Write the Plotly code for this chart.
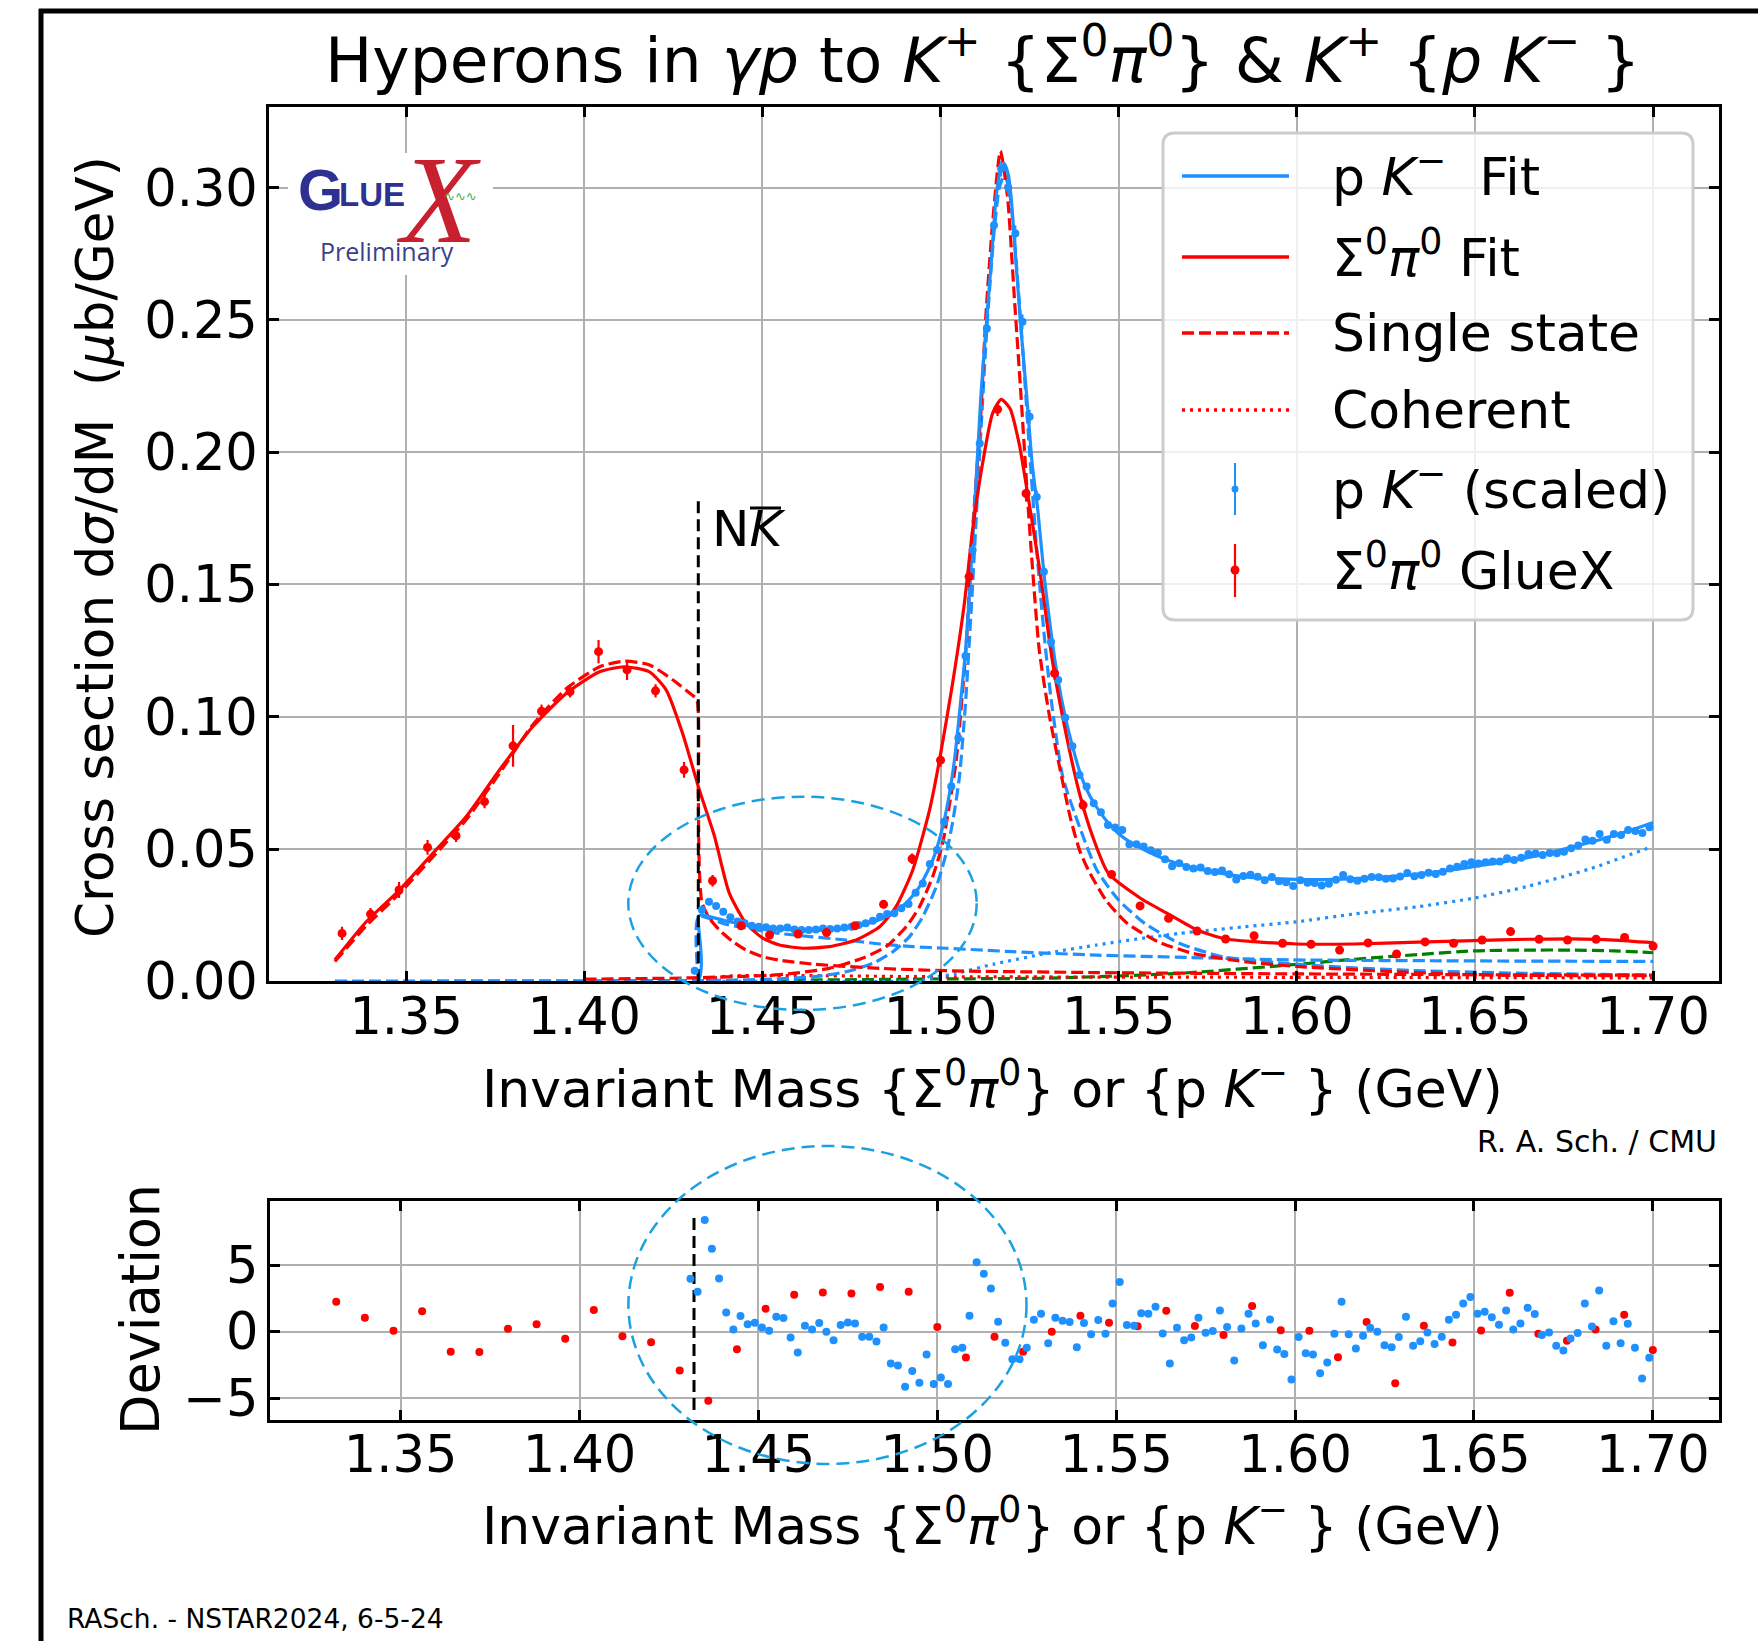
import plotly.graph_objects as go

# ------------------------------------------------------------------ data
X_TICKS = [1.35, 1.40, 1.45, 1.50, 1.55, 1.60, 1.65, 1.70]
X_TICK_TEXT = ["1.35", "1.40", "1.45", "1.50", "1.55", "1.60", "1.65", "1.70"]
Y_TICKS = [0.0, 0.05, 0.10, 0.15, 0.20, 0.25, 0.30]
Y_TICK_TEXT = ["0.00", "0.05", "0.10", "0.15", "0.20", "0.25", "0.30"]
DEV_TICKS = [-5, 0, 5]
DEV_TICK_TEXT = ["\u22125", "0", "5"]

# N Kbar threshold (GeV) and the extent of its marker line
NKBAR_MASS = 1.432
NKBAR_XSEC_EXTENT = [0.0, 0.1836]
NKBAR_DEV_EXTENT = [-5.9, 8.9]

# Sigma0 pi0 GlueX points
RED_MASS = [1.332, 1.340, 1.348, 1.356, 1.364, 1.372, 1.380, 1.388, 1.396, 1.404,
            1.412, 1.420, 1.428, 1.436, 1.444, 1.452, 1.460, 1.468, 1.476, 1.484,
            1.492, 1.500, 1.508, 1.516, 1.524, 1.532, 1.540, 1.548, 1.556, 1.564,
            1.572, 1.580, 1.588, 1.596, 1.604, 1.612, 1.620, 1.628, 1.636, 1.644,
            1.652, 1.660, 1.668, 1.676, 1.684, 1.692, 1.700]
RED_XSEC = [0.0181, 0.0254, 0.0345, 0.0506, 0.0550, 0.0679, 0.0890, 0.1021, 0.1095, 0.1246,
            0.1177, 0.1098, 0.0799, 0.0380, 0.0210, 0.0175, 0.0179, 0.0184, 0.0210, 0.0291,
            0.0463, 0.0836, 0.1530, 0.2162, 0.1844, 0.1164, 0.0666, 0.0404, 0.0285, 0.0238,
            0.0190, 0.0160, 0.0172, 0.0144, 0.0140, 0.0118, 0.0145, 0.0103, 0.0149, 0.0144,
            0.0156, 0.0188, 0.0159, 0.0156, 0.0159, 0.0166, 0.0133]
RED_ERR = [0.0025, 0.0023, 0.0030, 0.0028, 0.0023, 0.0025, 0.0079, 0.0025, 0.0022, 0.0044,
           0.0038, 0.0025, 0.0030, 0.0022, 0.0015, 0.0013, 0.0012, 0.0012, 0.0013, 0.0015,
           0.0020, 0.0025, 0.0040, 0.0025, 0.0030, 0.0025, 0.0020, 0.0015, 0.0012, 0.0012,
           0.0010, 0.0010, 0.0010, 0.0010, 0.0010, 0.0010, 0.0010, 0.0010, 0.0010, 0.0010,
           0.0010, 0.0010, 0.0010, 0.0010, 0.0010, 0.0010, 0.0010]
RED_DEV = [2.25, 1.04, 0.06, 1.54, -1.52, -1.54, 0.21, 0.56, -0.54, 1.62,
           -0.34, -0.79, -2.92, -5.21, -1.32, 1.72, 2.77, 2.95, 2.87, 3.35,
           3.00, 0.34, -1.95, -0.39, -1.52, -0.01, 1.19, 0.66, 0.41, 1.57,
           0.42, -0.26, 1.92, 0.11, 0.06, -1.92, 0.72, -3.88, 0.45, -0.82,
           0.08, 2.92, -0.16, -0.69, 0.16, 1.27, -1.39]

# p K- points (scaled)
BLUE_MASS = [1.431, 1.433, 1.435, 1.437, 1.439, 1.441, 1.443, 1.445, 1.447, 1.449,
             1.451, 1.453, 1.455, 1.457, 1.459, 1.461, 1.463, 1.465, 1.467, 1.469,
             1.471, 1.473, 1.475, 1.477, 1.479, 1.481, 1.483, 1.485, 1.487, 1.489,
             1.491, 1.493, 1.495, 1.497, 1.499, 1.501, 1.503, 1.505, 1.507, 1.509,
             1.511, 1.513, 1.515, 1.517, 1.519, 1.521, 1.523, 1.525, 1.527, 1.529,
             1.531, 1.533, 1.535, 1.537, 1.539, 1.541, 1.543, 1.545, 1.547, 1.549,
             1.551, 1.553, 1.555, 1.557, 1.559, 1.561, 1.563, 1.565, 1.567, 1.569,
             1.571, 1.573, 1.575, 1.577, 1.579, 1.581, 1.583, 1.585, 1.587, 1.589,
             1.591, 1.593, 1.595, 1.597, 1.599, 1.601, 1.603, 1.605, 1.607, 1.609,
             1.611, 1.613, 1.615, 1.617, 1.619, 1.621, 1.623, 1.625, 1.627, 1.629,
             1.631, 1.633, 1.635, 1.637, 1.639, 1.641, 1.643, 1.645, 1.647, 1.649,
             1.651, 1.653, 1.655, 1.657, 1.659, 1.661, 1.663, 1.665, 1.667, 1.669,
             1.671, 1.673, 1.675, 1.677, 1.679, 1.681, 1.683, 1.685, 1.687, 1.689,
             1.691, 1.693, 1.695, 1.697, 1.699]
BLUE_XSEC = [0.0040, 0.0270, 0.0301, 0.0285, 0.0263, 0.0242, 0.0226, 0.0219, 0.0210, 0.0206,
             0.0204, 0.0200, 0.0200, 0.0203, 0.0196, 0.0194, 0.0194, 0.0196, 0.0200, 0.0198,
             0.0200, 0.0203, 0.0206, 0.0213, 0.0219, 0.0229, 0.0244, 0.0254, 0.0257, 0.0276,
             0.0292, 0.0335, 0.0370, 0.0443, 0.0496, 0.0603, 0.0736, 0.0920, 0.1230, 0.1630,
             0.2033, 0.2468, 0.2858, 0.3072, 0.3000, 0.2827, 0.2493, 0.2134, 0.1831, 0.1548,
             0.1283, 0.1139, 0.0996, 0.0889, 0.0780, 0.0736, 0.0673, 0.0639, 0.0591, 0.0581,
             0.0572, 0.0518, 0.0518, 0.0510, 0.0495, 0.0486, 0.0461, 0.0435, 0.0446, 0.0432,
             0.0426, 0.0430, 0.0417, 0.0413, 0.0419, 0.0405, 0.0385, 0.0398, 0.0403, 0.0395,
             0.0382, 0.0394, 0.0378, 0.0374, 0.0360, 0.0382, 0.0373, 0.0372, 0.0362, 0.0369,
             0.0384, 0.0402, 0.0386, 0.0380, 0.0388, 0.0394, 0.0393, 0.0388, 0.0389, 0.0396,
             0.0409, 0.0397, 0.0402, 0.0410, 0.0406, 0.0414, 0.0426, 0.0433, 0.0443, 0.0450,
             0.0445, 0.0450, 0.0453, 0.0453, 0.0465, 0.0459, 0.0467, 0.0481, 0.0483, 0.0477,
             0.0485, 0.0484, 0.0490, 0.0503, 0.0513, 0.0536, 0.0531, 0.0557, 0.0535, 0.0557,
             0.0553, 0.0572, 0.0568, 0.0561, 0.0582]
BLUE_ERR = [0.0012, 0.0012, 0.0012, 0.0012, 0.0011, 0.0010, 0.0009, 0.0009, 0.0009, 0.0009,
            0.0009, 0.0009, 0.0009, 0.0009, 0.0009, 0.0009, 0.0009, 0.0009, 0.0009, 0.0009,
            0.0009, 0.0009, 0.0009, 0.0009, 0.0009, 0.0009, 0.0009, 0.0009, 0.0009, 0.0009,
            0.0009, 0.0010, 0.0010, 0.0012, 0.0012, 0.0014, 0.0016, 0.0018, 0.0020, 0.0024,
            0.0026, 0.0028, 0.0030, 0.0030, 0.0030, 0.0030, 0.0028, 0.0026, 0.0024, 0.0022,
            0.0020, 0.0018, 0.0016, 0.0014, 0.0012, 0.0012, 0.0011, 0.0011, 0.0010, 0.0010,
            0.0010, 0.0009, 0.0009, 0.0009, 0.0009, 0.0009, 0.0009, 0.0009, 0.0008, 0.0008,
            0.0008, 0.0008, 0.0008, 0.0008, 0.0008, 0.0008, 0.0008, 0.0008, 0.0008, 0.0008,
            0.0008, 0.0008, 0.0008, 0.0008, 0.0008, 0.0008, 0.0008, 0.0008, 0.0008, 0.0008,
            0.0008, 0.0008, 0.0008, 0.0008, 0.0008, 0.0008, 0.0008, 0.0008, 0.0008, 0.0008,
            0.0008, 0.0008, 0.0008, 0.0008, 0.0008, 0.0008, 0.0008, 0.0008, 0.0008, 0.0008,
            0.0008, 0.0008, 0.0008, 0.0008, 0.0008, 0.0008, 0.0008, 0.0008, 0.0008, 0.0008,
            0.0008, 0.0008, 0.0008, 0.0008, 0.0008, 0.0008, 0.0008, 0.0008, 0.0008, 0.0008,
            0.0008, 0.0008, 0.0008, 0.0008, 0.0008]
BLUE_DEV = [3.98, 3.00, 8.40, 6.24, 4.00, 1.44, 0.16, 1.17, 0.56, 0.66,
            0.31, 0.06, 1.12, 1.02, -0.44, -1.57, 0.44, 0.16, 0.64, -0.01,
            -0.64, 0.49, 0.69, 0.62, -0.39, -0.39, -0.74, 0.31, -2.40, -2.55,
            -4.15, -2.97, -3.85, -1.72, -3.95, -3.45, -3.95, -1.32, -1.22, 1.19,
            5.23, 4.35, 3.25, 0.74, -0.84, -2.07, -2.07, -1.22, 0.89, 1.34,
            -0.87, 1.04, 0.82, 0.72, -1.17, 0.64, -0.19, 0.87, -0.16, 2.12,
            3.73, 0.49, 0.44, 1.39, 1.34, 1.87, -0.14, -2.40, 0.29, -0.64,
            -0.44, 1.04, -0.09, 0.04, 1.59, 0.34, -2.17, 0.24, 1.34, 0.62,
            -1.02, 0.92, -1.34, -1.69, -3.60, -0.41, -1.62, -1.72, -3.13, -2.32,
            -0.16, 2.25, -0.19, -1.27, -0.31, 0.29, -0.01, -1.02, -1.17, -0.41,
            1.12, -1.07, -0.72, -0.06, -0.94, -0.39, 0.89, 1.27, 2.12, 2.60,
            1.34, 1.49, 1.09, 0.51, 1.59, 0.16, 0.62, 1.79, 1.32, -0.26,
            -0.06, -1.07, -1.42, -0.51, -0.11, 2.12, 0.39, 3.10, -1.07, 0.79,
            -0.87, 0.59, -1.22, -3.53, -1.97]

# Sigma0 pi0 fit
RED_FIT_M = [1.330, 1.3388, 1.3481, 1.3575, 1.3668, 1.3762, 1.3855, 1.3949, 1.4043, 1.4113,
             1.4183, 1.4230, 1.4276, 1.4323, 1.4365, 1.4407, 1.4454, 1.4501, 1.4548, 1.4613,
             1.4688, 1.4763, 1.4829, 1.4875, 1.4922, 1.4969, 1.4997, 1.5033, 1.5066, 1.5090,
             1.5118, 1.5146, 1.5170, 1.5195, 1.5221, 1.5240, 1.5277, 1.5315, 1.5352, 1.5390,
             1.5427, 1.5470, 1.5560, 1.5640, 1.5720, 1.5800, 1.5880, 1.6000, 1.6158, 1.6340,
             1.6496, 1.6645, 1.6770, 1.6890, 1.7000]
RED_FIT = [0.0081, 0.0225, 0.0345, 0.0484, 0.0622, 0.0799, 0.0962, 0.1088, 0.1170, 0.1189,
           0.1170, 0.1101, 0.0937, 0.0723, 0.0550, 0.0333, 0.0219, 0.0163, 0.0137, 0.0125,
           0.0131, 0.0156, 0.0206, 0.0282, 0.0421, 0.0647, 0.0836, 0.1120, 0.1420, 0.1706,
           0.1958, 0.2147, 0.2200, 0.2165, 0.2030, 0.1880, 0.1567, 0.1202, 0.0937, 0.0710,
           0.0547, 0.0410, 0.0315, 0.0254, 0.0194, 0.0160, 0.0150, 0.0141, 0.0141, 0.0148,
           0.0154, 0.0159, 0.0160, 0.0156, 0.0146]

# single-state Lambda(1405) in Sigma0 pi0
RED_L1405_M = [1.330, 1.3388, 1.3481, 1.3575, 1.3668, 1.3762, 1.3855, 1.3949, 1.4043, 1.4113,
               1.4183, 1.4249, 1.4300, 1.4316, 1.4320, 1.4323, 1.4330, 1.4350, 1.4379, 1.4417,
               1.4454, 1.4501, 1.4548, 1.4641, 1.4830, 1.5016, 1.5437, 1.6000, 1.6500, 1.7000]
RED_L1405 = [0.0075, 0.0210, 0.0332, 0.0470, 0.0610, 0.0786, 0.0969, 0.1106, 0.1189, 0.1210,
             0.1196, 0.1139, 0.1085, 0.1065, 0.0700, 0.0420, 0.0300, 0.0240, 0.0194, 0.0150,
             0.0118, 0.0093, 0.0080, 0.0065, 0.0049, 0.0040, 0.0033, 0.0028, 0.0025, 0.0023]

# single-state Lambda(1520) in Sigma0 pi0
RED_L1520_M = [1.400, 1.430, 1.4548, 1.4688, 1.4782, 1.4847, 1.4904, 1.4941, 1.4978,
               1.5006, 1.5030, 1.5044, 1.5071, 1.5090, 1.5113, 1.5127, 1.5146, 1.5168, 1.5188,
               1.5207, 1.5226, 1.5244, 1.5256, 1.5277, 1.5306, 1.5334, 1.5364, 1.5390, 1.5415,
               1.5464, 1.5524, 1.5610, 1.5707, 1.5853, 1.6000, 1.6280, 1.6520, 1.7000]
RED_L1520 = [0.0008, 0.0013, 0.0025, 0.0049, 0.0088, 0.0131, 0.0207, 0.0282, 0.0396,
             0.0522, 0.0710, 0.0836, 0.1250, 0.1706, 0.2147, 0.2512, 0.2865, 0.3139, 0.2965,
             0.2587, 0.2209, 0.1830, 0.1600, 0.1252, 0.1000, 0.0811, 0.0620, 0.0496, 0.0420,
             0.0307, 0.0219, 0.0150, 0.0106, 0.0074, 0.0056, 0.0036, 0.0024, 0.0021]

# coherent part in Sigma0 pi0
RED_COH_M = [1.432, 1.440, 1.500, 1.600, 1.700]
RED_COH = [0.0000, 0.0019, 0.0017, 0.0015, 0.0013]

# p K- fit
BLUE_FIT_M = [1.330, 1.4318, 1.4320, 1.4328, 1.4407, 1.4501, 1.4595, 1.4688, 1.4782, 1.4847,
              1.4903, 1.4941, 1.4978, 1.5006, 1.5025, 1.5039, 1.5070, 1.5092, 1.5113, 1.5127,
              1.5142, 1.5156, 1.5168, 1.5179, 1.5190, 1.5198, 1.5212, 1.5226, 1.5242, 1.5257,
              1.5273, 1.5291, 1.5310, 1.5329, 1.5350, 1.5371, 1.5390, 1.5410, 1.5430, 1.5450,
              1.5470, 1.5500, 1.5530, 1.5560, 1.5600, 1.5650, 1.5700, 1.5750, 1.5800, 1.5850,
              1.5900, 1.5950, 1.6000, 1.6050, 1.6100, 1.6150, 1.6200, 1.6250, 1.6300, 1.6350,
              1.6400, 1.6450, 1.6500, 1.6550, 1.6600, 1.6650, 1.6700, 1.6750, 1.6800, 1.6850,
              1.6900, 1.6950, 1.7000]
BLUE_FIT = [0.0000, 0.0000, 0.0244, 0.0251, 0.0225, 0.0206, 0.0194, 0.0194, 0.0213, 0.0244,
            0.0295, 0.0358, 0.0458, 0.0584, 0.0710, 0.0836, 0.1250, 0.1706, 0.2209, 0.2461,
            0.2713, 0.2965, 0.3065, 0.3091, 0.3050, 0.2965, 0.2713, 0.2461, 0.2209, 0.1958,
            0.1780, 0.1530, 0.1320, 0.1145, 0.1000, 0.0885, 0.0795, 0.0725, 0.0675, 0.0635,
            0.0600, 0.0558, 0.0528, 0.0505, 0.0478, 0.0452, 0.0432, 0.0418, 0.0405, 0.0396,
            0.0390, 0.0387, 0.0385, 0.0384, 0.0385, 0.0387, 0.0391, 0.0395, 0.0400, 0.0407,
            0.0415, 0.0424, 0.0434, 0.0445, 0.0456, 0.0468, 0.0482, 0.0500, 0.0517, 0.0535,
            0.0555, 0.0577, 0.0600]

# single-state Lambda(1520) in p K-
BLUE_L1520_M = [1.330, 1.4454, 1.4641, 1.4735, 1.4810, 1.4866, 1.4913, 1.4950, 1.4988, 1.5016,
                1.5035, 1.5053, 1.5070, 1.5090, 1.5110, 1.5130, 1.5150, 1.5165, 1.5180, 1.5195,
                1.5210, 1.5230, 1.5250, 1.5270, 1.5290, 1.5310, 1.5343, 1.5390, 1.5439, 1.5500,
                1.5573, 1.5670, 1.5792, 1.6000, 1.6280, 1.6645, 1.7000]
BLUE_L1520 = [0.0000, 0.0005, 0.0017, 0.0036, 0.0068, 0.0112, 0.0169, 0.0244, 0.0358, 0.0484,
              0.0610, 0.0773, 0.1050, 0.1500, 0.2000, 0.2470, 0.2830, 0.3000, 0.3050, 0.2970,
              0.2760, 0.2400, 0.2000, 0.1630, 0.1320, 0.1070, 0.0773, 0.0584, 0.0420, 0.0307,
              0.0219, 0.0144, 0.0093, 0.0064, 0.0043, 0.0030, 0.0024]

# single-state threshold term in p K-
BLUE_BG_M = [1.4320, 1.4321, 1.4400, 1.4548, 1.4735, 1.4830, 1.4922, 1.5016, 1.5203, 1.5437,
             1.5700, 1.5980, 1.6500, 1.7000]
BLUE_BG = [0.0000, 0.0244, 0.0215, 0.0181, 0.0156, 0.0141, 0.0131, 0.0125, 0.0112, 0.0099,
           0.0090, 0.0081, 0.0077, 0.0075]

# coherent part in p K-
BLUE_COH_M = [1.432, 1.4876, 1.4950, 1.5043, 1.5150, 1.5306, 1.5437, 1.5500, 1.5670, 1.5853,
              1.6000, 1.6158, 1.6340, 1.6496, 1.6645, 1.6827, 1.6997]
BLUE_COH = [0.0000, 0.0000, 0.0005, 0.0030, 0.0065, 0.0108, 0.0137, 0.0150, 0.0181, 0.0206,
            0.0225, 0.0254, 0.0282, 0.0314, 0.0358, 0.0427, 0.0509]

# higher state
GREEN_M = [1.330, 1.400, 1.4548, 1.5000, 1.5306, 1.5670, 1.6000, 1.6158, 1.6340, 1.6496,
           1.6645, 1.6770, 1.6890, 1.7000]
GREEN = [0.0000, 0.0001, 0.0004, 0.0009, 0.0012, 0.0030, 0.0064, 0.0083, 0.0101, 0.0115,
         0.0118, 0.0118, 0.0115, 0.0108]

# ------------------------------------------------------------------ style
FONT = "DejaVu Sans"
W, H = 1758, 1641
BLUE = "#1E90FF"
RED = "#FF0000"
GREEN_C = "#008000"
RING = "#1BA1E2"
GRID = "#B0B0B0"
DASH = "12px,5px"
DOT = "3px,5px"


def px(v):
    return v / W


def py(v):
    return 1 - v / H


fig = go.Figure()


def add_curve(xs, ys, color, dash="solid", width=3.2):
    fig.add_trace(go.Scatter(
        x=xs, y=ys, mode="lines", xaxis="x", yaxis="y", hoverinfo="skip",
        line=dict(color=color, width=width, dash=dash, shape="spline", smoothing=0.6)))


add_curve(GREEN_M, GREEN, GREEN_C, DASH)
add_curve(RED_COH_M, RED_COH, RED, DOT)
add_curve(BLUE_COH_M, BLUE_COH, BLUE, DOT)
add_curve(BLUE_BG_M, BLUE_BG, BLUE, DASH)
add_curve(BLUE_L1520_M, BLUE_L1520, BLUE, DASH)
add_curve(RED_L1405_M, RED_L1405, RED, DASH)
add_curve(RED_L1520_M, RED_L1520, RED, DASH)
add_curve(BLUE_FIT_M, BLUE_FIT, BLUE)
add_curve(RED_FIT_M, RED_FIT, RED)

# N Kbar threshold
fig.add_trace(go.Scatter(x=[NKBAR_MASS, NKBAR_MASS], y=NKBAR_XSEC_EXTENT, mode="lines",
                         xaxis="x", yaxis="y", hoverinfo="skip",
                         line=dict(color="black", width=3, dash="12px,6px")))

fig.add_trace(go.Scatter(x=BLUE_MASS, y=BLUE_XSEC, mode="markers", xaxis="x", yaxis="y",
                         marker=dict(color=BLUE, size=8),
                         error_y=dict(type="data", array=BLUE_ERR, color=BLUE,
                                      thickness=2, width=0)))
fig.add_trace(go.Scatter(x=RED_MASS, y=RED_XSEC, mode="markers", xaxis="x", yaxis="y",
                         marker=dict(color=RED, size=9),
                         error_y=dict(type="data", array=RED_ERR, color=RED,
                                      thickness=2.2, width=0)))

# deviation panel
fig.add_trace(go.Scatter(x=[NKBAR_MASS, NKBAR_MASS], y=NKBAR_DEV_EXTENT, mode="lines",
                         xaxis="x2", yaxis="y2", hoverinfo="skip",
                         line=dict(color="black", width=3, dash="12px,6px")))
fig.add_trace(go.Scatter(x=RED_MASS, y=RED_DEV, mode="markers", xaxis="x2", yaxis="y2",
                         marker=dict(color=RED, size=8)))
fig.add_trace(go.Scatter(x=BLUE_MASS, y=BLUE_DEV, mode="markers", xaxis="x2", yaxis="y2",
                         marker=dict(color=BLUE, size=8)))

AX = dict(showline=True, linecolor="black", linewidth=3, mirror="ticks",
          ticks="inside", ticklen=10, tickwidth=2.5, tickcolor="black",
          showgrid=True, gridcolor=GRID, gridwidth=2, zeroline=False, automargin=False,
          tickfont=dict(family=FONT, size=51, color="black"))

fig.update_layout(
    width=W, height=H, autosize=False,
    margin=dict(l=0, r=0, t=0, b=0, pad=0, autoexpand=False),
    paper_bgcolor="white", plot_bgcolor="white", showlegend=False,
    font=dict(family=FONT, size=50, color="black"),
    xaxis=dict(domain=[px(269), px(1719)], range=[1.3115, 1.7185], anchor="y",
               tickvals=X_TICKS, ticktext=X_TICK_TEXT, ticklabelstandoff=-12, **AX),
    yaxis=dict(domain=[py(981.3), py(107)], range=[0, 0.3305], anchor="x",
               tickvals=Y_TICKS, ticktext=Y_TICK_TEXT, ticklabelstandoff=-2, **AX),
    xaxis2=dict(domain=[px(269.7), px(1719)], range=[1.3134, 1.7185], anchor="y2",
                tickvals=X_TICKS, ticktext=X_TICK_TEXT, ticklabelstandoff=-12, **AX),
    yaxis2=dict(domain=[py(1420), py(1201)], range=[-6.65, 9.83], anchor="x2",
                tickvals=DEV_TICKS, ticktext=DEV_TICK_TEXT, ticklabelstandoff=-2, **AX),
)

shapes = []
ann = []


def text(t, x, y, size, xa="center", ya="middle", angle=0, color="black", family=FONT):
    ann.append(dict(text=t, x=px(x), y=py(y), xref="paper", yref="paper", showarrow=False,
                    xanchor=xa, yanchor=ya, textangle=angle,
                    font=dict(size=size, color=color, family=family)))


def pline(x0, y0, x1, y1, color, width, dash="solid"):
    shapes.append(dict(type="line", xref="paper", yref="paper", x0=px(x0), y0=py(y0),
                       x1=px(x1), y1=py(y1), layer="above",
                       line=dict(color=color, width=width, dash=dash)))


def dot(cx, cy, r, color):
    shapes.append(dict(type="circle", xref="paper", yref="paper", x0=px(cx - r), y0=py(cy + r),
                       x1=px(cx + r), y1=py(cy - r), layer="above", fillcolor=color,
                       line=dict(color=color, width=0)))


def rounded_rect(x0, y0, x1, y1, r):
    p = lambda x, y: f"{px(x):.5f},{py(y):.5f}"
    return (f"M {p(x0 + r, y0)} L {p(x1 - r, y0)} Q {p(x1, y0)} {p(x1, y0 + r)} "
            f"L {p(x1, y1 - r)} Q {p(x1, y1)} {p(x1 - r, y1)} L {p(x0 + r, y1)} "
            f"Q {p(x0, y1)} {p(x0, y1 - r)} L {p(x0, y0 + r)} Q {p(x0, y0)} {p(x0 + r, y0)} Z")


# page frame
pline(39, 11, 1758, 11, "black", 5)
pline(41, 9, 41, 1641, "black", 5)

# highlight rings around the threshold region
shapes.append(dict(type="circle", xref="paper", yref="paper", layer="above",
                   x0=px(628.3), x1=px(976.7), y0=py(1010), y1=py(796.7),
                   line=dict(color=RING, width=2.5, dash="13px,7px")))
shapes.append(dict(type="circle", xref="paper", yref="paper", layer="above",
                   x0=px(628.4), x1=px(1026.5), y0=py(1464), y1=py(1146),
                   line=dict(color=RING, width=2.5, dash="13px,7px")))

# legend
shapes.append(dict(type="path", xref="paper", yref="paper", layer="above",
                   path=rounded_rect(1163, 133, 1693, 620, 12),
                   fillcolor="rgba(255,255,255,0.8)", line=dict(color="#CCCCCC", width=3)))
LX0, LX1, LXC, LT = 1182, 1289, 1235, 1330
pline(LX0, 176, LX1, 176, BLUE, 3.5)
pline(LX0, 257, LX1, 257, RED, 3.5)
pline(LX0, 333, LX1, 333, RED, 3.5, DASH)
pline(LX0, 410, LX1, 410, RED, 3.5, DOT)
pline(LXC, 463, LXC, 515, BLUE, 2)
dot(LXC, 489, 3.5, BLUE)
pline(LXC, 544, LXC, 597, RED, 2.2)
dot(LXC, 570, 4.5, RED)
text("p <i>K</i><sup>\u2212</sup>  Fit", LT, 173, 52, xa="left")
text("\u03a3<sup>0</sup><i>\u03c0</i><sup>0</sup> Fit", LT, 254, 52, xa="left")
text("Single state", LT, 333, 52, xa="left")
text("Coherent", LT, 410, 52, xa="left")
text("p <i>K</i><sup>\u2212</sup> (scaled)", LT, 486, 52, xa="left")
text("\u03a3<sup>0</sup><i>\u03c0</i><sup>0</sup> GlueX", LT, 567, 52, xa="left")

# GlueX logo
shapes.append(dict(type="rect", xref="paper", yref="paper", layer="above",
                   x0=px(288), x1=px(493), y0=py(275), y1=py(153),
                   fillcolor="white", line=dict(width=0)))
NAVY = "#2E3192"
text("<b>G</b>", 320, 189, 58, color=NAVY, family="Liberation Sans")
text("<b>LUE</b>", 372, 194, 33, color=NAVY, family="Liberation Sans")
text("<i>X</i>", 438, 200, 124, color="#C8202F", family="Liberation Serif")
text("\u223f\u223f\u223f", 460, 196, 13, color="#4CA64C")
text("Preliminary", 387, 251, 25, color="#3B3F8C", family="Open Sans")

# threshold label
text("N<i>K</i>", 710, 529, 50, xa="left")
pline(750, 508, 781, 508, "black", 3)

# titles
text("Hyperons in <i>\u03b3p</i> to <i>K</i><sup>+</sup> {\u03a3<sup>0</sup><i>\u03c0</i><sup>0</sup>} "
     "&amp; <i>K</i><sup>+</sup> {<i>p K</i><sup>\u2212</sup> }", 983, 56, 63)
text("Invariant Mass {\u03a3<sup>0</sup><i>\u03c0</i><sup>0</sup>} or {p <i>K</i><sup>\u2212</sup> } (GeV)",
     993, 1085, 52)
text("Invariant Mass {\u03a3<sup>0</sup><i>\u03c0</i><sup>0</sup>} or {p <i>K</i><sup>\u2212</sup> } (GeV)",
     993, 1522, 52)
text("Cross section d<i>\u03c3</i>/dM  (<i>\u03bc</i>b/GeV)", 95, 547, 51.5, angle=-90)
text("Deviation", 140, 1310, 52.5, angle=-90)
text("R. A. Sch. / CMU", 1719, 1141, 30, xa="right")
text("RASch. - NSTAR2024, 6-5-24", 65, 1618, 26.5, xa="left")

fig.update_layout(shapes=shapes, annotations=ann)
fig.write_html("out.html", config={"displayModeBar": False, "responsive": False})
